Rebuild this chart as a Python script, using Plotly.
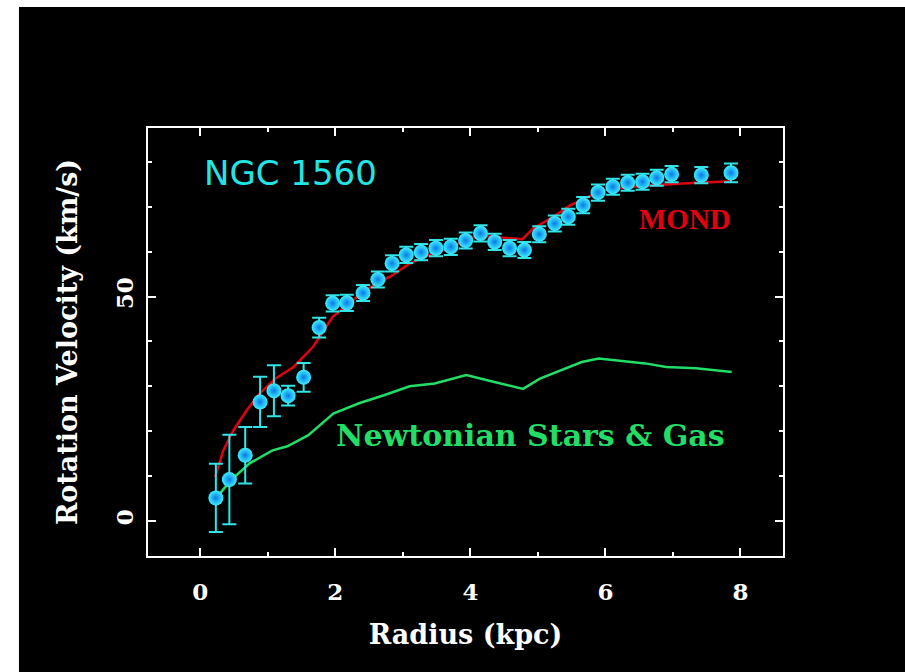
import plotly.graph_objects as go

# NGC 1560 rotation curve: observed points with errors, MOND fit, Newtonian baryons
radius_obs = [0.23, 0.43, 0.665, 0.885, 1.09, 1.30, 1.53, 1.76, 1.96, 2.17,
              2.41, 2.63, 2.84, 3.05, 3.27, 3.49, 3.71, 3.93, 4.15, 4.36,
              4.58, 4.80, 5.02, 5.25, 5.45, 5.67, 5.89, 6.11, 6.33, 6.55,
              6.76, 6.98, 7.42, 7.86]
vel_obs = [5.1, 9.2, 14.6, 26.5, 29.0, 27.9, 32.0, 43.1, 48.5, 48.6,
           50.8, 53.8, 57.4, 59.3, 59.9, 60.8, 61.1, 62.5, 64.1, 62.2,
           60.8, 60.4, 63.9, 66.3, 67.8, 70.4, 73.2, 74.5, 75.4, 75.6,
           76.5, 77.3, 77.1, 77.6]
vel_err = [7.6, 10.0, 6.3, 5.6, 5.7, 2.2, 3.2, 2.2, 1.8, 1.8,
           1.8, 1.8, 1.8, 1.8, 1.8, 1.8, 1.8, 1.8, 1.8, 1.8,
           1.8, 1.8, 1.8, 1.8, 1.8, 1.8, 1.8, 1.8, 1.8, 1.8,
           1.8, 1.8, 1.8, 2.1]

radius_mond = [0.22, 0.34, 0.49, 0.69, 0.88, 1.11, 1.38, 1.67, 1.96, 2.35,
               2.49, 2.85, 3.10, 3.40, 3.75, 3.95, 4.19, 4.49, 4.77, 4.93,
               5.23, 5.48, 5.65, 5.95, 6.59, 7.21, 7.87]
vel_mond = [9.8, 15.7, 20.2, 24.7, 28.4, 31.7, 34.3, 38.8, 45.5, 50.3,
            51.8, 54.8, 57.4, 59.3, 61.1, 63.0, 63.5, 63.2, 62.8, 65.2,
            67.8, 70.4, 71.5, 73.8, 74.7, 75.3, 75.7]

radius_newt = [0.23, 0.45, 0.73, 1.07, 1.29, 1.60, 1.97, 2.35, 2.72, 3.10,
               3.47, 3.94, 4.34, 4.78, 5.03, 5.34, 5.65, 5.90, 6.15, 6.59,
               6.90, 7.34, 7.87]
vel_newt = [5.0, 9.0, 12.8, 15.7, 16.6, 19.1, 23.9, 26.2, 28.0, 30.0,
            30.6, 32.5, 31.0, 29.4, 31.7, 33.6, 35.4, 36.2, 35.8, 35.1,
            34.3, 34.0, 33.2]

x_ticks = [0, 2, 4, 6, 8]
y_ticks = [0, 50]

fig = go.Figure()

fig.add_trace(go.Scatter(
    x=radius_newt, y=vel_newt, mode="lines",
    line=dict(color="#22dd66", width=2.5), name="Newtonian Stars & Gas",
))
fig.add_trace(go.Scatter(
    x=radius_mond, y=vel_mond, mode="lines",
    line=dict(color="#e00010", width=2.5), name="MOND",
))
fig.add_trace(go.Scatter(
    x=radius_obs, y=vel_obs, mode="markers",
    marker=dict(size=15, color="#3cf0ff",
                gradient=dict(type="radial", color="#0a78e8"),
                line=dict(width=0)),
    error_y=dict(type="data", array=vel_err, color="#30e4e8",
                 thickness=2, width=7),
    name="NGC 1560",
))

axis_common = dict(
    showline=True, linecolor="white", linewidth=2, mirror="allticks",
    ticks="inside", ticklen=8, tickwidth=2, tickcolor="white",
    showgrid=False, zeroline=False,
    tickfont=dict(family="DejaVu Serif", size=23, color="white", weight="bold"),
    title_font=dict(family="DejaVu Serif", size=27, color="white", weight="bold"),
)

fig.update_layout(
    width=905, height=672,
    margin=dict(l=148, r=122, t=128, b=116),
    paper_bgcolor="white", plot_bgcolor="black",
    showlegend=False,
    xaxis=dict(
        range=[-0.775, 8.63], tickvals=x_ticks,
        minor=dict(dtick=1, tick0=0, ticks="inside", ticklen=4,
                   tickwidth=2, tickcolor="white"),
        ticklabelstandoff=14,
        title=dict(text="Radius (kpc)", standoff=22),
        **axis_common,
    ),
    yaxis=dict(
        range=[-7.86, 87.6], tickvals=y_ticks, tickangle=-90,
        minor=dict(dtick=10, tick0=0, ticks="inside", ticklen=4,
                   tickwidth=2, tickcolor="white"),
        ticklabelstandoff=4,
        title=dict(text="Rotation Velocity (km/s)", standoff=25),
        **axis_common,
    ),
    shapes=[dict(type="rect", xref="paper", yref="paper",
                 x0=-0.2032, x1=1.2, y0=-0.28, y1=1.2829,
                 fillcolor="black", line=dict(width=0), layer="below")],
    annotations=[
        dict(text="NGC 1560", x=0.03, y=77.5, xref="x", yref="y",
             xanchor="left", yanchor="middle", showarrow=False,
             font=dict(family="DejaVu Sans", size=34, color="#22e6e6")),
        dict(text="MOND", x=6.47, y=67.2, xref="x", yref="y",
             xanchor="left", yanchor="middle", showarrow=False,
             font=dict(family="Liberation Serif", size=29, color="#e00010",
                       weight="bold")),
        dict(text="Newtonian Stars & Gas", x=1.987, y=19.1, xref="x", yref="y",
             xanchor="left", yanchor="middle", showarrow=False,
             font=dict(family="DejaVu Serif", size=30, color="#22dd66",
                       weight="bold")),
    ],
)

fig.write_html("out.html")
